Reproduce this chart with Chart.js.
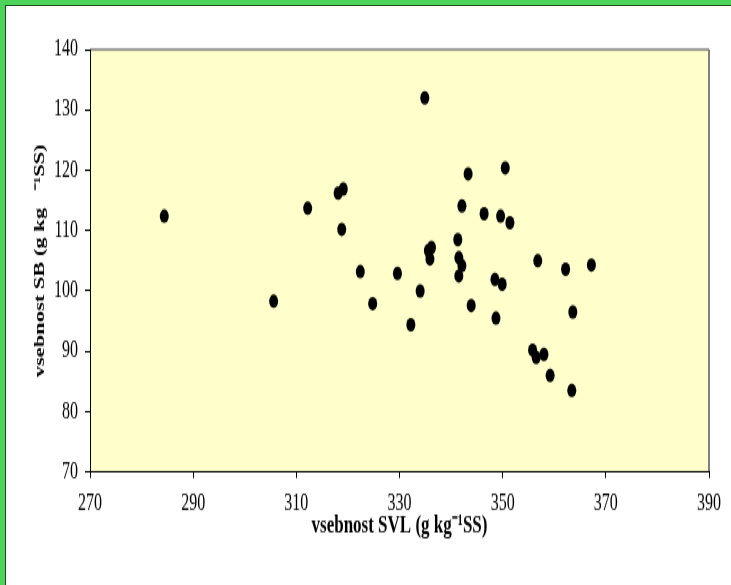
<!DOCTYPE html>
<html>
<head>
<meta charset="utf-8">
<script src="https://cdn.jsdelivr.net/npm/chart.js@4.4.1/dist/chart.umd.min.js"></script>
<style>
  html, body { margin: 0; padding: 0; background: #fff; }
  #page { position: relative; width: 731px; height: 585px; overflow: hidden; }
  #stretch { position: absolute; left: 0; top: 0; width: 731px; height: 390px;
             transform: scaleY(1.5); transform-origin: 0 0; }
  .g { position: absolute; background: #4cd45a; }
  .d { position: absolute; background: #1f4a22; }
</style>
</head>
<body>
<div id="page">
  <div id="stretch"><canvas id="chart" width="731" height="390"></canvas></div>
  <div class="g" style="left:0;top:0;width:731px;height:5px"></div>
  <div class="g" style="left:0;top:0;width:5px;height:585px"></div>
  <div class="d" style="left:5px;top:5px;width:726px;height:1px"></div>
  <div class="d" style="left:5px;top:5px;width:1px;height:580px"></div>
</div>
<script>
// SVL content (x) and SB content (y), g kg-1 SS
const svl = [284.4, 305.6, 312.2, 318.1, 319.1, 318.8, 322.4, 324.8, 329.6, 332.2,
             334.0, 334.9, 336.2, 335.6, 335.9, 341.3, 341.5, 342.1, 341.5, 342.1,
             343.3, 343.9, 346.4, 348.5, 348.7, 349.6, 349.9, 350.5, 351.4, 355.8,
             356.5, 358.0, 356.8, 359.2, 362.2, 363.4, 363.6, 367.2];
const sb = [112.4, 98.3, 113.7, 116.2, 116.9, 110.2, 103.2, 97.9, 102.9, 94.4,
            100.0, 132.0, 107.2, 106.7, 105.3, 108.5, 105.5, 104.2, 102.5, 114.1,
            119.4, 97.6, 112.8, 101.9, 95.5, 112.4, 101.1, 120.4, 111.3, 90.2,
            89.0, 89.5, 105.0, 86.0, 103.6, 83.5, 96.5, 104.3];
const xRange = [270, 390, 20];
const yRange = [70, 140, 10];

const points = svl.map((x, i) => ({ x: x, y: sb[i] }));
const serif = "'Liberation Serif', 'Times New Roman', serif";

const plotBg = {
  id: 'plotBg',
  beforeDraw(chart) {
    const { ctx, chartArea: a } = chart;
    ctx.save();
    ctx.fillStyle = '#fff';
    ctx.fillRect(0, 0, chart.width, chart.height);
    ctx.fillStyle = '#ffffcc';
    ctx.fillRect(a.left, a.top, a.right - a.left, a.bottom - a.top);
    ctx.strokeStyle = '#808080';
    ctx.lineWidth = 1.3;
    ctx.beginPath();
    ctx.moveTo(a.left, a.top);
    ctx.lineTo(a.right, a.top);
    ctx.stroke();
    ctx.lineWidth = 2;
    ctx.beginPath();
    ctx.moveTo(a.right, a.top);
    ctx.lineTo(a.right, a.bottom);
    ctx.stroke();
    ctx.restore();
  }
};

new Chart(document.getElementById('chart'), {
  type: 'scatter',
  data: {
    datasets: [{
      data: points,
      pointRadius: 4.5,
      pointHoverRadius: 4.5,
      pointBackgroundColor: '#000',
      pointBorderColor: '#000',
      pointBorderWidth: 0
    }]
  },
  options: {
    responsive: false,
    animation: false,
    devicePixelRatio: 1,
    layout: { padding: { left: 0, right: 22, top: 33, bottom: 0 } },
    plugins: { legend: { display: false }, tooltip: { enabled: false } },
    scales: {
      x: {
        type: 'linear',
        min: xRange[0], max: xRange[1],
        afterFit(s) { s.height = 75.3; },
        ticks: { stepSize: xRange[2], color: '#000', padding: 7,
                 font: { family: serif, size: 16 } },
        grid: { drawOnChartArea: false, drawTicks: true, tickLength: 4, color: '#000' },
        border: { color: '#000', width: 1 },
        title: { display: true, text: 'vsebnost SVL (g kg\u207B\u00B9SS)', color: '#000',
                 padding: { top: 0, bottom: 29 },
                 font: { family: serif, size: 17, weight: 'bold' } }
      },
      y: {
        type: 'linear',
        min: yRange[0], max: yRange[1],
        afterFit(s) { s.width = 90; },
        ticks: { stepSize: yRange[2], color: '#000', padding: 7,
                 font: { family: serif, size: 16 } },
        grid: { drawOnChartArea: false, drawTicks: true, tickLength: 5, color: '#000' },
        border: { color: '#000', width: 1 },
        title: { display: true, text: 'vsebnost SB (g kg   \u207B\u00B9SS)', color: '#000',
                 padding: { top: 31, bottom: 0 },
                 font: { family: serif, size: 15, weight: 'bold' } }
      }
    }
  },
  plugins: [plotBg]
});
</script>
</body>
</html>
